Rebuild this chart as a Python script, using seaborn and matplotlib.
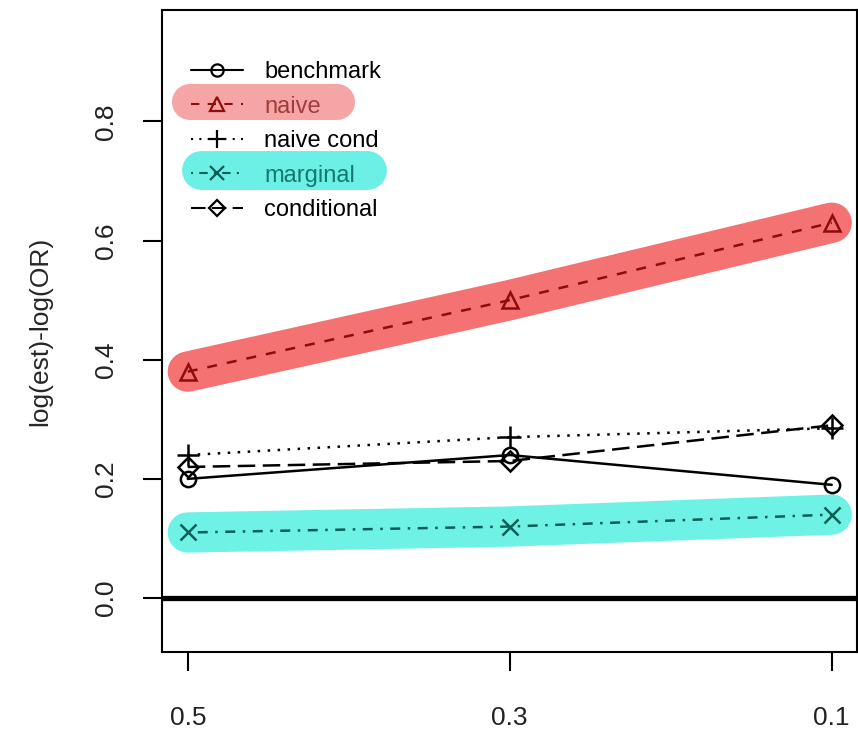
import matplotlib
matplotlib.use("Agg")
import matplotlib.pyplot as plt
import seaborn as sns
import pandas as pd
from matplotlib.lines import Line2D

# ---- data ----
prevalence = ["0.5", "0.3", "0.1"]
benchmark = [0.20, 0.24, 0.19]
naive = [0.38, 0.50, 0.63]
naive_cond = [0.24, 0.27, 0.285]
marginal = [0.11, 0.12, 0.14]
conditional = [0.22, 0.23, 0.29]
series_names = ["benchmark", "naive", "naive cond", "marginal", "conditional"]
yticks = [0.0, 0.2, 0.4, 0.6, 0.8]

sns.set_theme(style="white")
plt.rcParams["font.family"] = ["Liberation Sans", "DejaVu Sans"]

fig = plt.figure(figsize=(8.58, 7.30), dpi=100)
ax = fig.add_axes([162 / 858, 78 / 730, 695.5 / 858, 642 / 730])

pos = list(range(len(prevalence)))
df = pd.DataFrame({"pos": pos, "benchmark": benchmark, "naive": naive,
                   "naive cond": naive_cond, "marginal": marginal,
                   "conditional": conditional})

# highlighter strokes
ax.plot(df["pos"], df["naive"], color="#f47272", lw=29, solid_capstyle="round",
        solid_joinstyle="round", zorder=1)
ax.plot(df["pos"], df["marginal"], color="#6ff2e6", lw=29, solid_capstyle="round",
        solid_joinstyle="round", zorder=1)

styles = {
    "benchmark": dict(color="black", marker="o", dashes=None, ms=11),
    "naive": dict(color="#8e0c0c", marker="^", dashes=(4, 4), ms=12),
    "naive cond": dict(color="black", marker="+", dashes=(1, 3), ms=16),
    "marginal": dict(color="#0b5e58", marker="x", dashes=(1, 3, 4, 3), ms=12),
    "conditional": dict(color="black", marker="D", dashes=(7, 3), ms=10),
}

for name in series_names:
    st = styles[name]
    kw = dict(x="pos", y=name, data=df, ax=ax, color=st["color"], lw=1.8,
              marker=st["marker"], markersize=st["ms"], markeredgewidth=1.8,
              markeredgecolor=st["color"], zorder=3)
    if st["marker"] not in ("+", "x"):
        kw["markerfacecolor"] = "none"
    sns.lineplot(**kw)
    l = ax.lines[-1]
    if st["dashes"] is not None:
        l.set_dashes(st["dashes"])

ax.axhline(0, color="black", lw=3.8, zorder=2)

ax.set_xlim(-0.08, 2.08)
ax.set_ylim(-0.0906, 0.987)
ax.set_xticks(pos)
ax.set_xticklabels(prevalence)
ax.set_yticks(yticks)
ax.set_yticklabels([f"{v:.1f}" for v in yticks], rotation=90, va="center")
ax.set_xlabel("")
ax.set_ylabel("log(est)-log(OR)", fontsize=19, labelpad=30)
ax.tick_params(axis="x", pad=25)
ax.tick_params(axis="y", pad=18)
ax.tick_params(axis="both", direction="out", length=14, width=1.5, color="black",
               labelsize=19, left=True, bottom=True, labelcolor="#222222")
for s in ax.spines.values():
    s.set_color("black")
    s.set_linewidth(1.5)

# legend highlighter blobs
ax.plot([0.040, 0.252], [0.857, 0.857], transform=ax.transAxes, color="#f5a5a5",
        lw=26, solid_capstyle="round", zorder=1)
ax.plot([0.056, 0.295], [0.751, 0.751], transform=ax.transAxes, color="#6cefe4",
        lw=28, solid_capstyle="round", zorder=1)

handles = []
for name in series_names:
    st = styles[name]
    h = Line2D([0], [0], color=st["color"], lw=1.5, marker=st["marker"],
               markersize=st["ms"] * 0.8, markeredgewidth=1.6,
               markerfacecolor="none" if st["marker"] not in ("+", "x") else st["color"],
               markeredgecolor=st["color"])
    if st["dashes"] is not None:
        h.set_dashes(st["dashes"])
    handles.append(h)

leg = ax.legend(handles, series_names, loc="upper left", bbox_to_anchor=(0.028, 0.935),
                frameon=False, fontsize=17, handlelength=2.2, handletextpad=0.9,
                labelspacing=0.53, borderaxespad=0)
leg.set_zorder(5)
text_colors = ["black", "#a03c3c", "black", "#137a72", "black"]
for t, c in zip(leg.get_texts(), text_colors):
    t.set_color(c)

fig.savefig("out.png", dpi=100)
